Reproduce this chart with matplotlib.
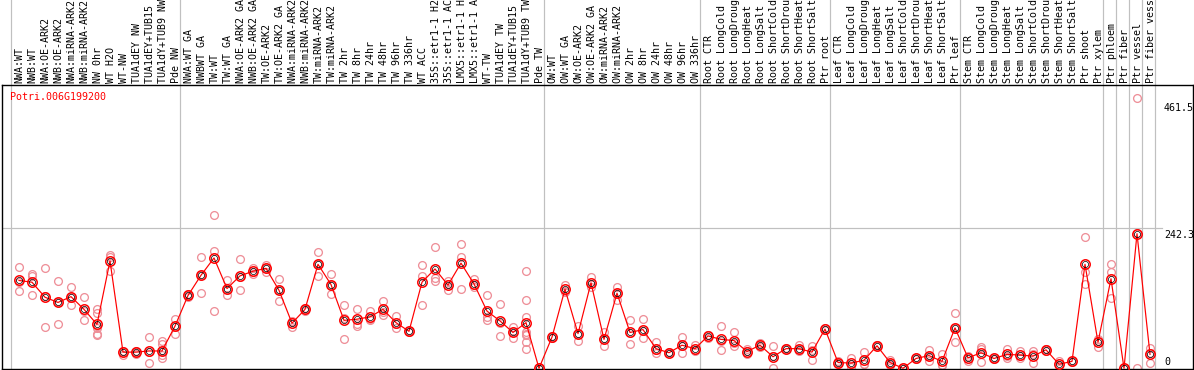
import matplotlib
matplotlib.use("Agg")
import matplotlib.pyplot as plt
import matplotlib.transforms as mtransforms

gene_name = "Potri.006G199200"

labels = [
    "NWA:WT", "NWB:WT", "NWA:OE-ARK2", "NWB:OE-ARK2", "NWA:miRNA-ARK2", "NWB:miRNA-ARK2",
    "NW 0hr", "WT H2O", "WT-NW", "TUA1dEY NW", "TUA1dEY+TUB15 NW", "TUA1dY+TUB9 NW", "Pde NW",
    "NWA:WT GA", "NWBWT GA", "TW:WT", "TW:WT GA", "NWA:OE-ARK2 GA", "NWB:OE-ARK2 GA",
    "TW:OE-ARK2", "TW:OE-ARK2 GA", "NWA:miRNA-ARK2 GA", "NWB:miRNA-ARK2 GA", "TW:miRNA-ARK2",
    "TW:miRNA-ARK2 GA", "TW 2hr", "TW 8hr", "TW 24hr", "TW 48hr", "TW 96hr", "TW 336hr",
    "WT ACC", "35S::etr1-1 H2O", "35S::etr1-1 ACC", "LMX5::etr1-1 H2O", "LMX5::etr1-1 ACC",
    "WT-TW", "TUA1dEY TW", "TUA1dEY+TUB15 TW", "TUA1dY+TUB9 TW", "Pde TW",
    "OW:WT", "OW:WT GA", "OW:OE-ARK2", "OW:OE-ARK2 GA", "OW:miRNA-ARK2", "OW:miRNA-ARK2 GA",
    "OW 2hr", "OW 8hr", "OW 24hr", "OW 48hr", "OW 96hr", "OW 336hr",
    "Root CTR", "Root LongCold", "Root LongDrought", "Root LongHeat", "Root LongSalt",
    "Root ShortCold", "Root ShortDrought", "Root ShortHeat", "Root ShortSalt", "Ptr root",
    "Leaf CTR", "Leaf LongCold", "Leaf LongDrought", "Leaf LongHeat", "Leaf LongSalt",
    "Leaf ShortCold", "Leaf ShortDrought", "Leaf ShortHeat", "Leaf ShortSalt", "Ptr leaf",
    "Stem CTR", "Stem LongCold", "Stem LongDrought", "Stem LongHeat", "Stem LongSalt",
    "Stem ShortCold", "Stem ShortDrought", "Stem ShortHeat", "Stem ShortSalt", "Ptr shoot",
    "Ptr xylem", "Ptr phloem", "Ptr fiber", "Ptr vessel", "Ptr fiber vessel",
]

means = [
    152, 149, 123, 114, 124, 102, 76, 186, 28, 28, 30, 30, 73,
    126, 161, 191, 138, 160, 168, 173, 135, 78, 102, 180, 145, 83, 85, 89, 102, 79, 64,
    149, 172, 144, 182, 146, 99, 82, 62, 79, 0,
    54, 137, 60, 148, 50, 130, 62, 67, 34, 27, 40, 34,
    56, 50, 48, 29, 40, 20, 34, 34, 28, 68,
    10, 9, 14, 39, 10, 0, 17, 22, 12, 70,
    18, 27, 17, 24, 23, 21, 32, 7, 12, 180, 45,
    155, 0, 233, 24,
]

replicates = [
    [175, 133, 150], [164, 160, 126], [173, 71, 125], [151, 77, 114], [140, 110, 124],
    [123, 83, 100], [102, 96, 69, 60, 57, 74], [196, 169, 192], [23, 30, 28], [24, 30, 28],
    [54, 10, 28], [48, 42, 23, 17, 30], [85, 60, 74],
    [128, 124, 126], [192, 130, 161], [266, 203, 100], [152, 126, 137], [189, 135, 158],
    [173, 164, 167], [179, 167, 173], [155, 116, 135], [72, 80, 82], [104, 99, 102],
    [201, 159, 180], [163, 129, 144], [109, 87, 50], [102, 77, 73], [99, 83, 85],
    [116, 92, 98], [91, 70, 77], [64, 63, 65], [178, 159, 109], [210, 157, 151],
    [151, 135, 146], [215, 192, 138], [154, 140, 144], [126, 89, 83], [112, 56, 79],
    [71, 53, 63], [168, 118, 88, 57, 45, 33, 62, 60], [0, 0, 0],
    [56, 52, 54], [145, 132, 134], [73, 47, 60], [158, 140, 146], [62, 39, 50],
    [141, 119, 130], [83, 42, 61], [85, 53, 64], [45, 27, 31], [28, 26, 27],
    [54, 27, 39], [41, 30, 32],
    [52, 58, 57], [73, 31, 47], [62, 39, 44], [33, 25, 30], [44, 36, 41], [39, 0, 21],
    [34, 33, 35], [40, 30, 33], [38, 15, 31], [70, 66, 67],
    [13, 8, 10], [18, 2, 8], [28, 8, 7], [40, 38, 40], [15, 6, 10], [0, 0, 0],
    [17, 16, 18], [32, 13, 22], [24, 6, 5], [95, 46, 69],
    [20, 13, 21], [37, 11, 33], [17, 16, 18], [33, 17, 22], [30, 18, 21], [30, 9, 25],
    [34, 30, 33], [12, 4, 6], [12, 11, 13], [227, 166, 146], [51, 37, 47],
    [181, 166, 121], [0, 0, 0], [468, 235, 0], [35, 10, 27],
]

group_starts = [0, 13, 41, 53, 63, 73, 84, 85, 86, 87, 88]
scale_labels = [461.5, 242.3, 0]
grid_value = 242.3

W, H = 1194, 370
DPI = 100
fig = plt.figure(figsize=(W / DPI, H / DPI), dpi=DPI)

ax_left_px, ax_right_px = 1.5, 1193.0
ax_top_px, ax_bot_px = 85.0, 369.3
ax = fig.add_axes([ax_left_px / W, (H - ax_bot_px) / H,
                   (ax_right_px - ax_left_px) / W, (ax_bot_px - ax_top_px) / H])

step = 13.0
x0_px = 19.0
xmin = -(x0_px - ax_left_px) / step
xmax = xmin + (ax_right_px - ax_left_px) / step
ax.set_xlim(xmin, xmax)

zero_px = 368.3
ppu = (zero_px - 228.3) / 242.3
ymin = -(ax_bot_px - zero_px) / ppu
ymax = ymin + (ax_bot_px - ax_top_px) / ppu
ax.set_ylim(ymin, ymax)

ax.set_xticks([])
ax.set_yticks([])
for s in ax.spines.values():
    s.set_color("black")
    s.set_linewidth(1.0)

gray = "#c0c0c0"
px = 72.0 / DPI

ymax_frac = ax_bot_px / (ax_bot_px - ax_top_px)
for g in group_starts:
    ax.axvline(g - 8.0 / step, ymin=0, ymax=ymax_frac, color=gray, lw=1.2 * px,
               clip_on=False, zorder=1)

ax.axhline(grid_value, xmin=0, xmax=(1162 - ax_left_px) / (ax_right_px - ax_left_px),
           color=gray, lw=1.2 * px, zorder=1)

xs = list(range(len(means)))
rep_color = "#ee8f98"
for i, reps in enumerate(replicates):
    ax.plot([i] * len(reps), reps, linestyle="none", marker="o", markersize=5.6,
            markerfacecolor="none", markeredgecolor=rep_color, markeredgewidth=1.3 * px,
            zorder=2, clip_on=False)

ax.plot(xs, means, color="red", lw=1.2 * px, zorder=3, clip_on=False)
ax.plot(xs, means, linestyle="none", marker="o", markersize=6.8, markerfacecolor="none",
        markeredgecolor="red", markeredgewidth=1.5 * px, zorder=4, clip_on=False)
ax.plot(xs, means, linestyle="none", marker="o", markersize=4.4, markerfacecolor="none",
        markeredgecolor="black", markeredgewidth=0.7 * px, zorder=5, clip_on=False)

mono = "DejaVu Sans Mono"
fs = 7.2

lab_x = (1164 - x0_px) / step
for v in scale_labels:
    if v == 0:
        ax.text(lab_x, v + 1.5 / ppu, "0", ha="left", va="bottom", fontsize=fs,
                family=mono, color="black")
    else:
        ax.text(lab_x, v - 1.5 / ppu, f"{v:g}", ha="left", va="top", fontsize=fs,
                family=mono, color="black")

ax.text((10 - x0_px) / step, (zero_px - 97) / ppu, gene_name, ha="left", va="center",
        fontsize=fs, family=mono, color="red")

trans = mtransforms.blended_transform_factory(ax.transData, fig.transFigure)
for i, lab in enumerate(labels):
    ax.text(i + 0.05, 1 - 83.0 / H, lab, transform=trans, rotation=90, ha="center",
            va="bottom", fontsize=fs, family=mono, color="black", clip_on=False)

fig.savefig("out.png", dpi=DPI)
